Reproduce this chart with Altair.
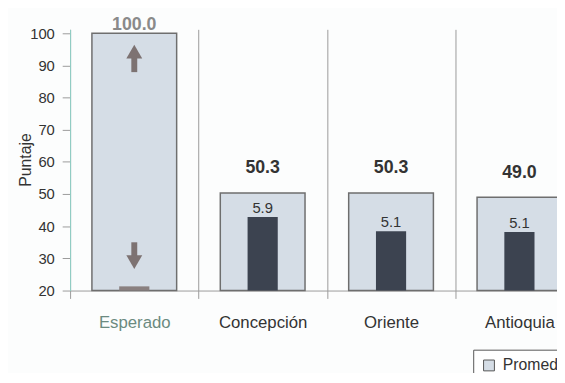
import altair as alt
import pandas as pd

# ---- data ----
categorias = ["Esperado", "Concepción", "Oriente", "Antioquia"]
promedio = [100.0, 50.3, 50.3, 49.0]
promedio_txt = ["100.0", "50.3", "50.3", "49.0"]
interior = [21.3, 42.9, 38.4, 38.2]          # inner bar tops (axis units)
interior_txt = ["", "5.9", "5.1", "5.1"]
serie = ["Promedio"] * 4
y_ticks = [20, 30, 40, 50, 60, 70, 80, 90, 100]

flecha_dir = ["up", "down"]
flecha_desde = [87.9, 35.0]
flecha_hasta = [93.0, 29.8]
flecha_punta = [94.3, 28.8]

FONT = "Liberation Sans, Arial"
TXT = "#333333"

df = pd.DataFrame({
    "cat": categorias, "prom": promedio, "prom_txt": promedio_txt,
    "inner": interior, "inner_txt": interior_txt, "serie": serie,
})
arrows = pd.DataFrame({
    "cat": ["Esperado"] * 2, "dir": flecha_dir,
    "desde": flecha_desde, "hasta": flecha_hasta, "punta": flecha_punta,
})

xscale = alt.Scale(domain=categorias, range=[0, 521], paddingInner=0, paddingOuter=0)
yscale = alt.Scale(domain=[20, 101.2], nice=False, zero=False)

x_axis = alt.Axis(grid=True, tickBand="extent", gridColor="#9a9a9a",
                  gridWidth=1, domainColor="#9a9a9a", tickColor="#9a9a9a",
                  tickSize=8, labelAngle=0, labelFontSize=17, labelFont=FONT,
                  labelPadding=16, labelBaseline="top",
                  labelColor=alt.expr("datum.value == 'Esperado' ? '#6b8a80' : '#333333'"))
y_axis = alt.Axis(values=y_ticks, grid=False, labelOverlap=False,
                  domainColor="#8fcfc6", tickColor="#9a9a9a", tickSize=8,
                  labelFontSize=15, labelFont=FONT, labelColor=TXT, labelPadding=8,
                  titleFont=FONT, titleFontSize=16,
                  titleFontWeight="normal", titleColor=TXT,
                  titleX=-37, titleY=132, titleAngle=270,
                  titleBaseline="bottom", titleAlign="center")


def X():
    return alt.X("cat:N", scale=xscale, sort=categorias, title=None, axis=x_axis)


def Y(field):
    return alt.Y(field, scale=yscale, title="Puntaje", axis=y_axis)


base = alt.Chart(df)

outer = base.mark_bar(width=alt.RelativeBandSize(0.66), stroke="#6e6e6e",
                      strokeWidth=1.5).encode(
    x=X(), y=Y("prom:Q"), y2=alt.datum(20),
    color=alt.Color("serie:N", scale=alt.Scale(domain=["Promedio"], range=["#d5dde6"]),
                    legend=alt.Legend(orient="none", legendX=409, legendY=325,
                                      title=None, direction="horizontal",
                                      strokeColor="#555555", fillColor="#ffffff",
                                      padding=8, symbolType="square", symbolSize=121,
                                      symbolStrokeColor="#555555", symbolStrokeWidth=1,
                                      labelFont=FONT, labelFontSize=16,
                                      labelColor=TXT, labelOffset=6)),
)

inner_esp = base.transform_filter("datum.cat == 'Esperado'").mark_bar(
    width=alt.RelativeBandSize(0.235), color="#8a8080").encode(
    x=X(), y=Y("inner:Q"), y2=alt.datum(20))

inner_bars = base.transform_filter("datum.cat != 'Esperado'").mark_bar(
    width=alt.RelativeBandSize(0.235), color="#3c4350").encode(
    x=X(), y=Y("inner:Q"), y2=alt.datum(20))

inner_lbl = base.transform_filter("datum.cat != 'Esperado'").mark_text(
    baseline="alphabetic", dy=-4, fontSize=15, font=FONT, color=TXT).encode(
    x=X(), y=Y("inner:Q"), text="inner_txt:N")

top_lbl = base.transform_filter("datum.cat != 'Esperado'").mark_text(
    baseline="alphabetic", dy=-20, fontSize=18, fontWeight="bold", font=FONT,
    color=TXT).encode(
    x=X(), y=Y("prom:Q"), text="prom_txt:N")

top_esp = base.transform_filter("datum.cat == 'Esperado'").mark_text(
    baseline="alphabetic", dy=-3, fontSize=18, fontWeight="bold", font=FONT,
    color="#8a8a8a").encode(
    x=X(), y=Y("prom:Q"), text="prom_txt:N")

shaft = alt.Chart(arrows).mark_rule(strokeWidth=6, color="#7d7272").encode(
    x=X(), y=Y("desde:Q"), y2="hasta:Q")

head = alt.Chart(arrows).mark_point(filled=True, size=260, opacity=1,
                                    color="#7d7272").encode(
    x=X(), y=Y("punta:Q"),
    shape=alt.Shape("dir:N", scale=alt.Scale(domain=["up", "down"],
                                             range=["triangle-up", "triangle-down"]),
                    legend=None))

chart = alt.layer(outer, inner_esp, inner_bars, inner_lbl, top_lbl, top_esp,
                  shaft, head).properties(
    width=494, height=265,
    autosize=alt.AutoSizeParams(type="none"),
    padding={"left": 63, "top": 19, "right": 0, "bottom": 81},
    background="#fcfdfd",
).configure_view(stroke=None)

chart.save("out.html", embed_options={"renderer": "svg", "actions": False})
